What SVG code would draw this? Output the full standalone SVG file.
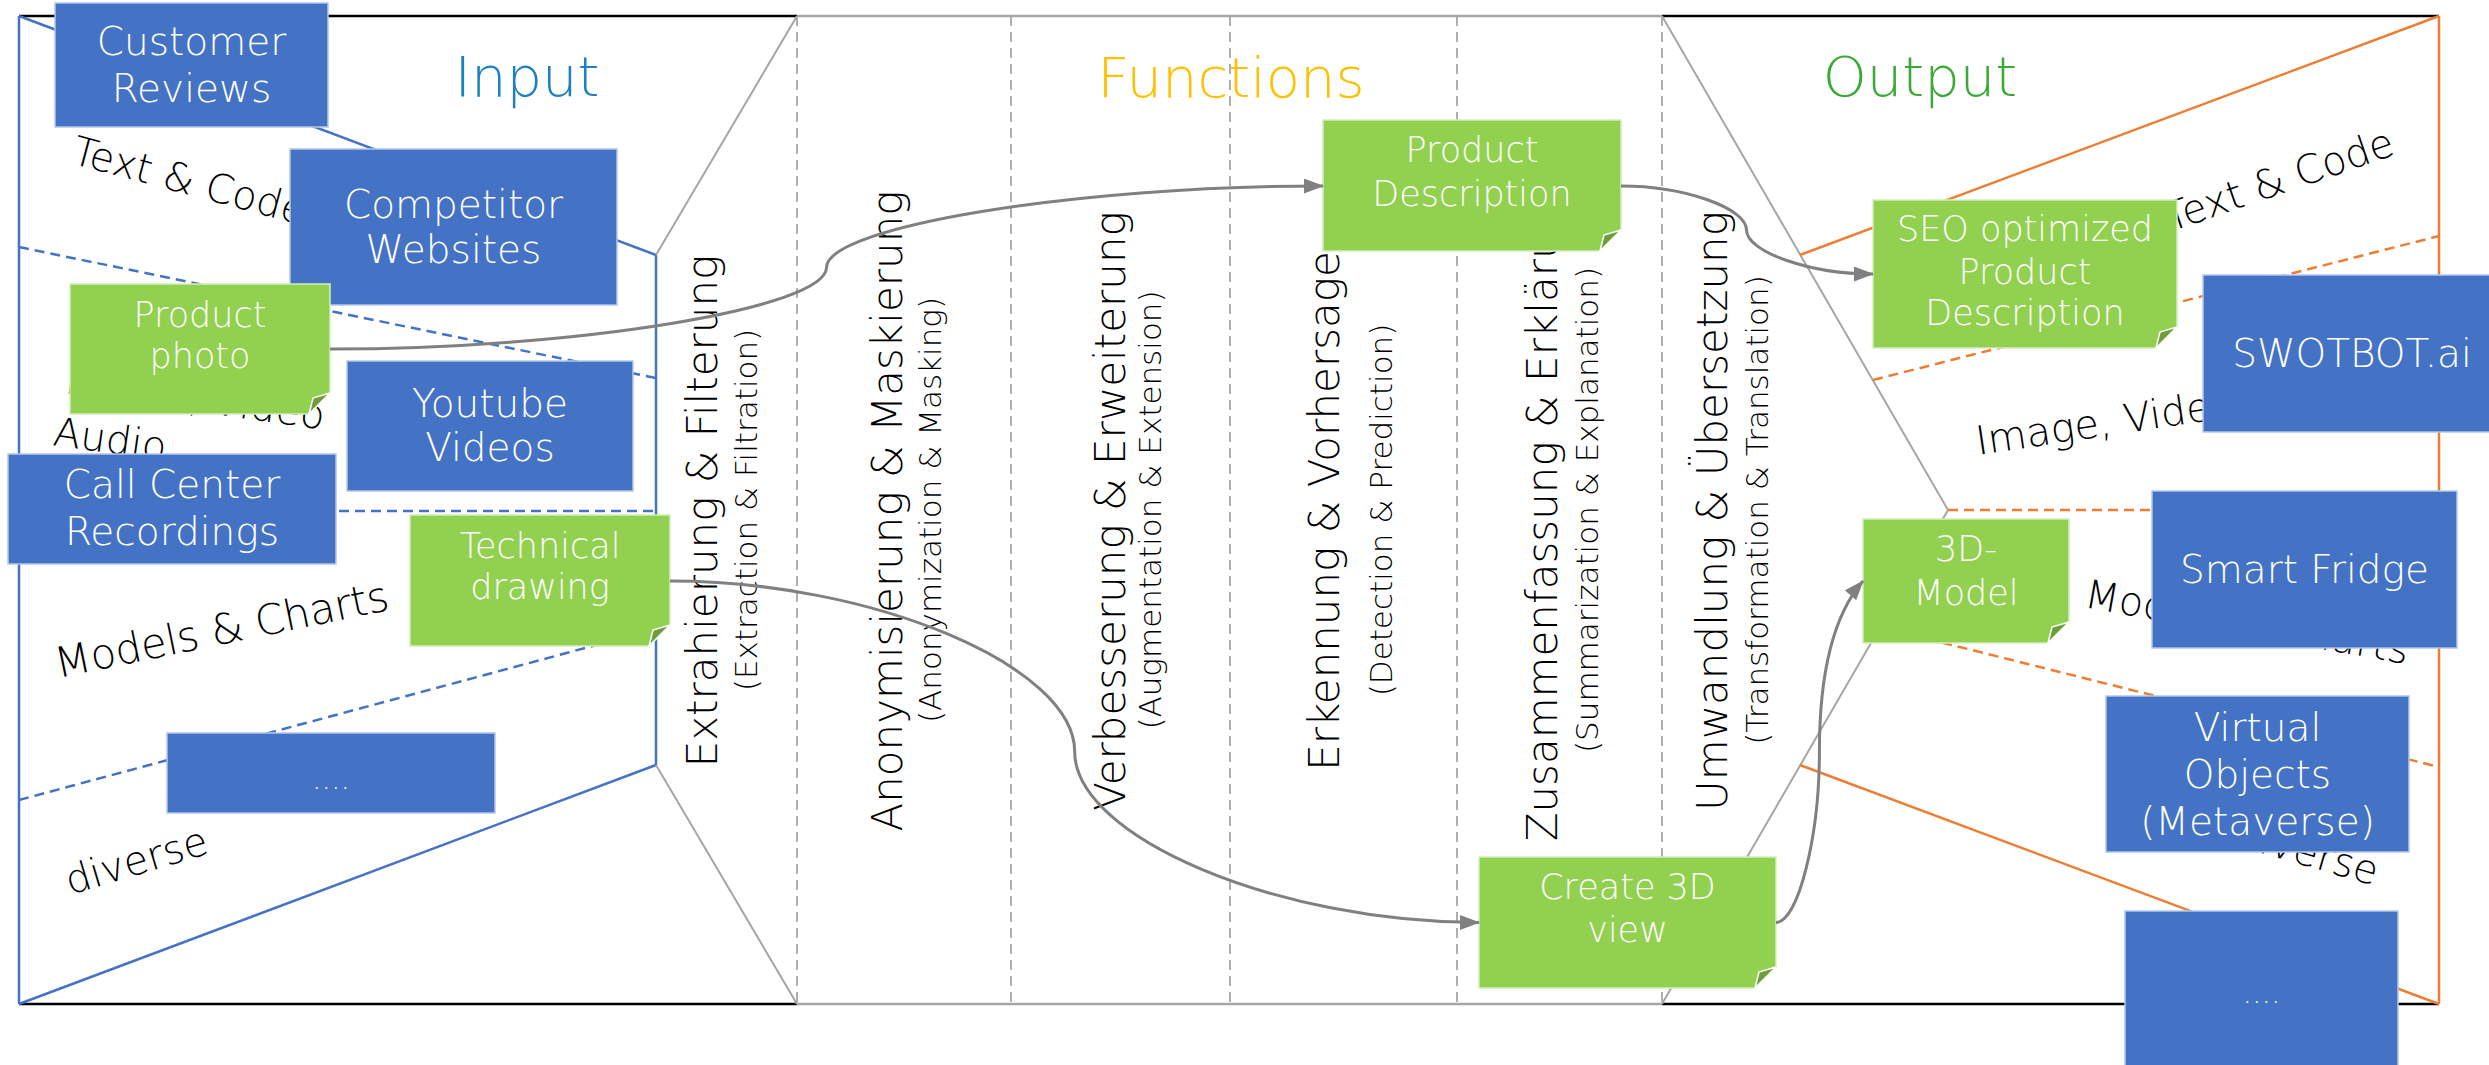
<svg xmlns="http://www.w3.org/2000/svg" width="2489" height="1065" viewBox="0 0 2489 1065">
<style>
text{font-family:"DejaVu Sans","Open Sans",sans-serif;font-weight:200}
.bk{stroke:#000;stroke-width:2.5;fill:none}
.gy{stroke:#A6A6A6;stroke-width:2.5;fill:none}
.fun{stroke:#A6A6A6;stroke-width:2;fill:none}
.vd{stroke:#A6A6A6;stroke-width:1.8;stroke-dasharray:10 6;fill:none}
.bl{stroke:#4472C4;stroke-width:2.5;fill:none}
.bld{stroke:#4472C4;stroke-width:2.5;stroke-dasharray:10 6;fill:none}
.or{stroke:#ED7D31;stroke-width:2.5;fill:none}
.ord{stroke:#ED7D31;stroke-width:2.5;stroke-dasharray:10 6;fill:none}
.lbl{fill:#000;font-size:40px}
.vt{fill:#000;font-size:42px;text-anchor:middle}
.vs{fill:#000;font-size:31px;text-anchor:middle}
.hdr{font-size:56px;text-anchor:middle}
.bbox{fill:#4472C4;stroke:#B4C7E7;stroke-width:1.5}
.gbox{fill:#92D050;stroke:#D6EDBF;stroke-width:1.5}
.fold{fill:#6E9E3A;stroke:#fff;stroke-width:1.5}
.bt{fill:#fff;font-size:39px;text-anchor:middle}
.gt{fill:#fff;font-size:35px;text-anchor:middle}
.con{stroke:#808080;stroke-width:3;fill:none;marker-end:url(#arr)}
</style>
<defs>
<marker id="arr" markerUnits="userSpaceOnUse" viewBox="0 0 20 15" refX="19" refY="7.5" markerWidth="20" markerHeight="15" orient="auto">
<path d="M0,0 L20,7.5 L0,15 Z" fill="#808080"/>
</marker>
</defs>
<rect width="2489" height="1065" fill="#fff"/>
<g id="frame">
<line class="bk" x1="19" y1="16" x2="797" y2="16"/>
<line class="gy" x1="797" y1="16" x2="1662" y2="16"/>
<line class="bk" x1="1662" y1="16" x2="2439" y2="16"/>
<line class="bk" x1="19" y1="1004" x2="797" y2="1004"/>
<line class="gy" x1="797" y1="1004" x2="1662" y2="1004"/>
<line class="bk" x1="1662" y1="1004" x2="2439" y2="1004"/>
<line class="vd" x1="797" y1="16" x2="797" y2="1004"/>
<line class="vd" x1="1011" y1="16" x2="1011" y2="1004"/>
<line class="vd" x1="1230" y1="16" x2="1230" y2="1004"/>
<line class="vd" x1="1457" y1="16" x2="1457" y2="1004"/>
<line class="vd" x1="1662" y1="16" x2="1662" y2="1004"/>
</g>
<g id="input-zone">
<line class="bl" x1="19" y1="16" x2="19" y2="1004"/>
<line class="bl" x1="19" y1="16" x2="656" y2="255"/>
<line class="bl" x1="656" y1="255" x2="656" y2="765"/>
<line class="bl" x1="656" y1="765" x2="19" y2="1004"/>
<line class="bld" x1="19" y1="247" x2="656" y2="378"/>
<line class="bld" x1="19" y1="511" x2="656" y2="511"/>
<line class="bld" x1="19" y1="800" x2="656" y2="629"/>
<line class="fun" x1="656" y1="255" x2="797" y2="16"/>
<line class="fun" x1="656" y1="765" x2="797" y2="1004"/>
<text class="lbl" transform="translate(70,163) rotate(15)">Text &amp; Code</text>
<text class="lbl" transform="translate(64,393) rotate(8)">Image, Video</text>
<text class="lbl" transform="translate(52,445) rotate(8)">Audio</text>
<text class="lbl" transform="translate(58,678) rotate(-11.6)" style="font-size:42px" textLength="340">Models &amp; Charts</text>
<text class="lbl" transform="translate(70,895) rotate(-16.7)">diverse</text>
</g>
<g id="output-zone">
<polyline class="fun" points="1662,16 1948,510 1662,1004"/>
<line class="or" x1="2439" y1="16" x2="2439" y2="1004"/>
<line class="or" x1="2439" y1="16" x2="1800" y2="255"/>
<line class="or" x1="1800" y1="765" x2="2439" y2="1004"/>
<line class="ord" x1="1873" y1="380" x2="2439" y2="236"/>
<line class="ord" x1="1948" y1="510" x2="2439" y2="510"/>
<line class="ord" x1="1880" y1="627" x2="2439" y2="767"/>
<text class="lbl" transform="translate(2170,232) rotate(-19)">Text &amp; Code</text>
<text class="lbl" transform="translate(1978,455) rotate(-8.5)">Image, Video</text>
<text class="lbl" transform="translate(2083,607) rotate(10)">Models &amp; Charts</text>
<text class="lbl" transform="translate(2233,845) rotate(16)">diverse</text>
</g>
<g id="headers">
<text class="hdr" x="527" y="96" fill="#1D80C3">Input</text>
<text class="hdr" x="1231" y="97" fill="#FFC000">Functions</text>
<text class="hdr" x="1920" y="96" fill="#3AAA35">Output</text>
</g>
<g id="functions">
<text class="vt" transform="translate(717,511) rotate(-90)">Extrahierung &amp; Filterung</text>
<text class="vs" transform="translate(757,510) rotate(-90)">(Extraction &amp; Filtration)</text>
<text class="vt" transform="translate(902,511) rotate(-90)">Anonymisierung &amp; Maskierung</text>
<text class="vs" transform="translate(941,510) rotate(-90)">(Anonymization &amp; Masking)</text>
<text class="vt" transform="translate(1125,511) rotate(-90)">Verbesserung &amp; Erweiterung</text>
<text class="vs" transform="translate(1161,510) rotate(-90)">(Augmentation &amp; Extension)</text>
<text class="vt" transform="translate(1339,511) rotate(-90)">Erkennung &amp; Vorhersage</text>
<text class="vs" transform="translate(1392,510) rotate(-90)">(Detection &amp; Prediction)</text>
<text class="vt" transform="translate(1557,511) rotate(-90)">Zusammenfassung &amp; Erklärung</text>
<text class="vs" transform="translate(1598,510) rotate(-90)">(Summarization &amp; Explanation)</text>
<text class="vt" transform="translate(1727,511) rotate(-90)">Umwandlung &amp; Übersetzung</text>
<text class="vs" transform="translate(1768,510) rotate(-90)">(Transformation  &amp; Translation)</text>
</g>
<g id="customer-reviews">
<rect class="bbox" x="55" y="3" width="273" height="124"/>
<text class="bt" x="191.5" y="55">Customer</text>
<text class="bt" x="191.5" y="101.6">Reviews</text>
</g>
<g id="competitor-websites">
<rect class="bbox" x="290" y="149" width="327" height="156"/>
<text class="bt" x="453.5" y="217.6">Competitor</text>
<text class="bt" x="453.5" y="263.4">Websites</text>
</g>
<g id="youtube-videos">
<rect class="bbox" x="347" y="361" width="286" height="130"/>
<text class="bt" x="490" y="416.7">Youtube</text>
<text class="bt" x="490" y="461.4">Videos</text>
</g>
<g id="call-center">
<rect class="bbox" x="8" y="454" width="328" height="110"/>
<text class="bt" x="172" y="497.6">Call Center</text>
<text class="bt" x="172" y="545">Recordings</text>
</g>
<g id="more-inputs">
<rect class="bbox" x="167" y="733" width="328" height="80"/>
<text class="bt" x="331" y="789" style="font-size:30px">....</text>
</g>
<g id="product-photo">
<path class="gbox" d="M70,284 H330 V393 L309,414 H70 Z"/>
<path class="fold" d="M330,393 L313,398 L309,414 Z"/>
<text class="gt" x="200" y="326.7">Product</text>
<text class="gt" x="200" y="368">photo</text>
</g>
<g id="technical-drawing">
<path class="gbox" d="M410,515 H670 V625 L649,646 H410 Z"/>
<path class="fold" d="M670,625 L653,630 L649,646 Z"/>
<text class="gt" x="540" y="557.7">Technical</text>
<text class="gt" x="540" y="599">drawing</text>
</g>
<g id="product-description">
<path class="gbox" d="M1323,120 H1621 V230 L1600,251 H1323 Z"/>
<path class="fold" d="M1621,230 L1604,235 L1600,251 Z"/>
<text class="gt" x="1472" y="162">Product</text>
<text class="gt" x="1472" y="206">Description</text>
</g>
<g id="create-3d-view">
<path class="gbox" d="M1479,857 H1776 V967 L1755,988 H1479 Z"/>
<path class="fold" d="M1776,967 L1759,972 L1755,988 Z"/>
<text class="gt" x="1627.5" y="899">Create 3D</text>
<text class="gt" x="1627.5" y="941.7">view</text>
</g>
<g id="seo-description">
<path class="gbox" d="M1873,200 H2177 V327 L2156,348 H1873 Z"/>
<path class="fold" d="M2177,327 L2160,332 L2156,348 Z"/>
<text class="gt" x="2025" y="241">SEO optimized</text>
<text class="gt" x="2025" y="284">Product</text>
<text class="gt" x="2025" y="325.4">Description</text>
</g>
<g id="model-3d">
<path class="gbox" d="M1863,519 H2069 V622 L2048,643 H1863 Z"/>
<path class="fold" d="M2069,622 L2052,627 L2048,643 Z"/>
<text class="gt" x="1966" y="561">3D-</text>
<text class="gt" x="1966" y="604.5">Model</text>
</g>
<g id="swotbot">
<rect class="bbox" x="2203" y="275" width="292" height="157"/>
<text class="bt" x="2352" y="367.3">SWOTBOT.ai</text>
</g>
<g id="smart-fridge">
<rect class="bbox" x="2152" y="491" width="305" height="157"/>
<text class="bt" x="2304.5" y="583.3">Smart Fridge</text>
</g>
<g id="virtual-objects">
<rect class="bbox" x="2106" y="696" width="303" height="156"/>
<text class="bt" x="2257.5" y="740.7">Virtual</text>
<text class="bt" x="2257.5" y="787.7">Objects</text>
<text class="bt" x="2257.5" y="835">(Metaverse)</text>
</g>
<g id="more-outputs">
<rect class="bbox" x="2125" y="911" width="273" height="160"/>
<text class="bt" x="2261.5" y="1003" style="font-size:30px">....</text>
</g>
<g id="connectors">
<path class="con" d="M330,349 C578,349 826.5,308 826.5,267.5 C826.5,227 1075,186 1323,186"/>
<path class="con" d="M1621,186 C1684,186 1746.5,208 1746.5,230 C1746.5,252 1810,274 1873,274"/>
<path class="con" d="M670,581 C872,581 1074.7,666 1074.7,751.7 C1074.7,837 1277,922.5 1479,922.5"/>
<path class="con" d="M1776,922.5 C1798,922.5 1819.4,837 1819.4,751.7 C1819.4,666 1836,612 1863,581"/>
</g>
</svg>
